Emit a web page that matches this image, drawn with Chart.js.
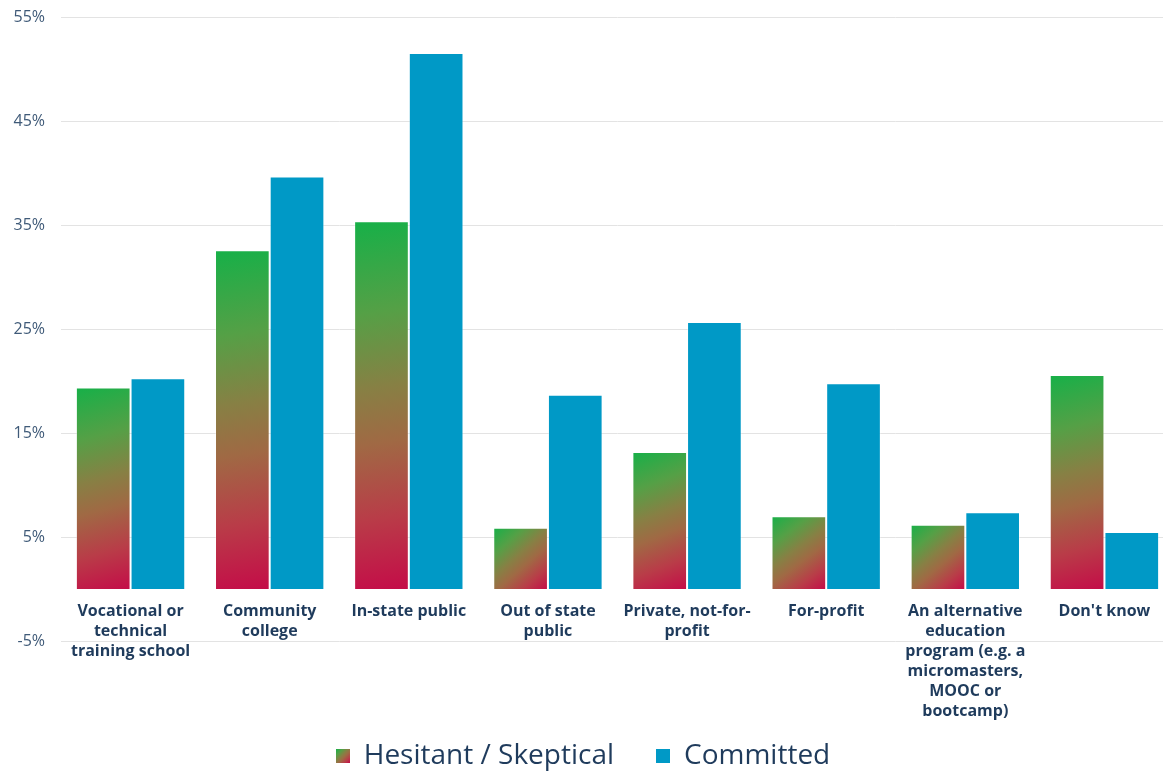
<!DOCTYPE html>
<html>
<head>
<meta charset="utf-8">
<script src="https://cdn.jsdelivr.net/npm/chart.js@4"></script>
<style>
  html, body { margin: 0; padding: 0; background: #fff; overflow: hidden; }
  #wrap { width: 1174px; height: 780px; margin-top: -8px; }
</style>
</head>
<body>
<div id="wrap"><canvas id="chart"></canvas></div>
<script>
// Data
const categories = [
    ['Vocational or', 'technical', 'training school'],
    ['Community', 'college'],
    ['In-state public'],
    ['Out of state', 'public'],
    ['Private, not-for-', 'profit'],
    ['For-profit'],
    ['An alternative', 'education', 'program (e.g. a', 'micromasters,', 'MOOC or', 'bootcamp)'],
    ["Don't know"]
];
const hesitant = [19.4, 32.6, 35.4, 5.9, 13.2, 7.0, 6.2, 20.6];
const committed = [20.3, 39.7, 51.6, 18.7, 25.7, 19.8, 7.4, 5.5];
const seriesNames = ['Hesitant / Skeptical', 'Committed'];
const yMin = -5, yMax = 55, yStep = 10;

const BLUE = '#0099c6';
const TEXT = '#1f3b5c';
const FONT = '"Open Sans", "Noto Sans", sans-serif';
// green -> brown -> crimson, as in the hesitant bars
const gradStops = [
    [0, 'rgb(22,176,72)'],
    [0.25, 'rgb(85,160,70)'],
    [0.45, 'rgb(135,128,68)'],
    [0.6, 'rgb(160,105,68)'],
    [0.8, 'rgb(185,60,72)'],
    [1, 'rgb(196,12,72)']
];

function makeGrad(g, x0, y0, x1, y1) {
    const lg = g.createLinearGradient(x0, y0, x1, y1);
    gradStops.forEach(s => lg.addColorStop(s[0], s[1]));
    return lg;
}

// small legend swatches
function swatch(fill) {
    const c = document.createElement('canvas');
    c.width = 14; c.height = 14;
    const g = c.getContext('2d');
    g.fillStyle = fill === 'grad' ? makeGrad(g, 0, 0, 14, 14) : fill;
    g.fillRect(0, 0, 14, 14);
    return c;
}
const swatches = [swatch('grad'), swatch(BLUE)];

// paint each hesitant bar with its own diagonal gradient
const barGradient = {
    id: 'barGradient',
    beforeDatasetsDraw(chart) {
        const meta = chart.getDatasetMeta(0);
        meta.data.forEach(el => {
            const left = el.x - el.width / 2, right = el.x + el.width / 2;
            const top = Math.min(el.y, el.base), bottom = Math.max(el.y, el.base);
            el.options.backgroundColor = makeGrad(chart.ctx, left, top, right, bottom);
        });
    }
};

// nudge legend a little, like the original
const legendShift = {
    id: 'legendShift',
    afterLayout(chart) {
        chart.legend.left -= 4;
        chart.legend.right -= 4;
    }
};

const ctx = document.getElementById('chart').getContext('2d');
const chart = new Chart(ctx, {
    type: 'bar',
    data: {
        labels: categories,
        datasets: [{
            label: seriesNames[0],
            data: hesitant,
            backgroundColor: () => 'rgb(22,176,72)',
            borderColor: 'rgba(255,255,255,0.35)',
            borderWidth: 1,
            categoryPercentage: 0.786,
            barPercentage: 1.0
        }, {
            label: seriesNames[1],
            data: committed,
            backgroundColor: BLUE,
            borderColor: 'rgba(255,255,255,0.35)',
            borderWidth: 1,
            categoryPercentage: 0.786,
            barPercentage: 1.0
        }]
    },
    options: {
        responsive: true,
        maintainAspectRatio: false,
        animation: false,
        layout: { padding: { top: 9, right: 0, bottom: -8, left: 0 } },
        plugins: {
            tooltip: { enabled: false },
            legend: {
                position: 'bottom',
                labels: {
                    usePointStyle: true,
                    boxWidth: 14,
                    boxHeight: 14,
                    padding: 42,
                    color: TEXT,
                    font: { family: FONT, size: 28 },
                    generateLabels: chart => chart.data.datasets.map((ds, i) => ({
                        text: ds.label,
                        pointStyle: swatches[i],
                        fillStyle: BLUE,
                        strokeStyle: 'transparent',
                        lineWidth: 0,
                        fontColor: TEXT,
                        datasetIndex: i,
                        hidden: false
                    }))
                }
            }
        },
        scales: {
            x: {
                position: { y: 0 },
                grid: { display: false },
                border: { display: false },
                ticks: {
                    color: TEXT,
                    padding: 4,
                    maxRotation: 0,
                    autoSkip: false,
                    font: { family: FONT, size: 16, weight: 'bold', lineHeight: 1.25 }
                }
            },
            spacer: {
                type: 'category',
                position: 'bottom',
                grid: { display: false },
                border: { display: false },
                ticks: { display: false },
                afterFit: s => { s.height = 59; }
            },
            y: {
                min: yMin,
                max: yMax,
                border: { display: false },
                grid: { color: '#e3e3e3', lineWidth: 1, drawTicks: false },
                afterFit: s => { s.width = 61; },
                ticks: {
                    stepSize: yStep,
                    padding: 16,
                    color: '#3f5a78',
                    font: { family: FONT, size: 16 },
                    callback: v => v + '%'
                }
            }
        }
    },
    plugins: [barGradient, legendShift]
});
</script>
</body>
</html>
